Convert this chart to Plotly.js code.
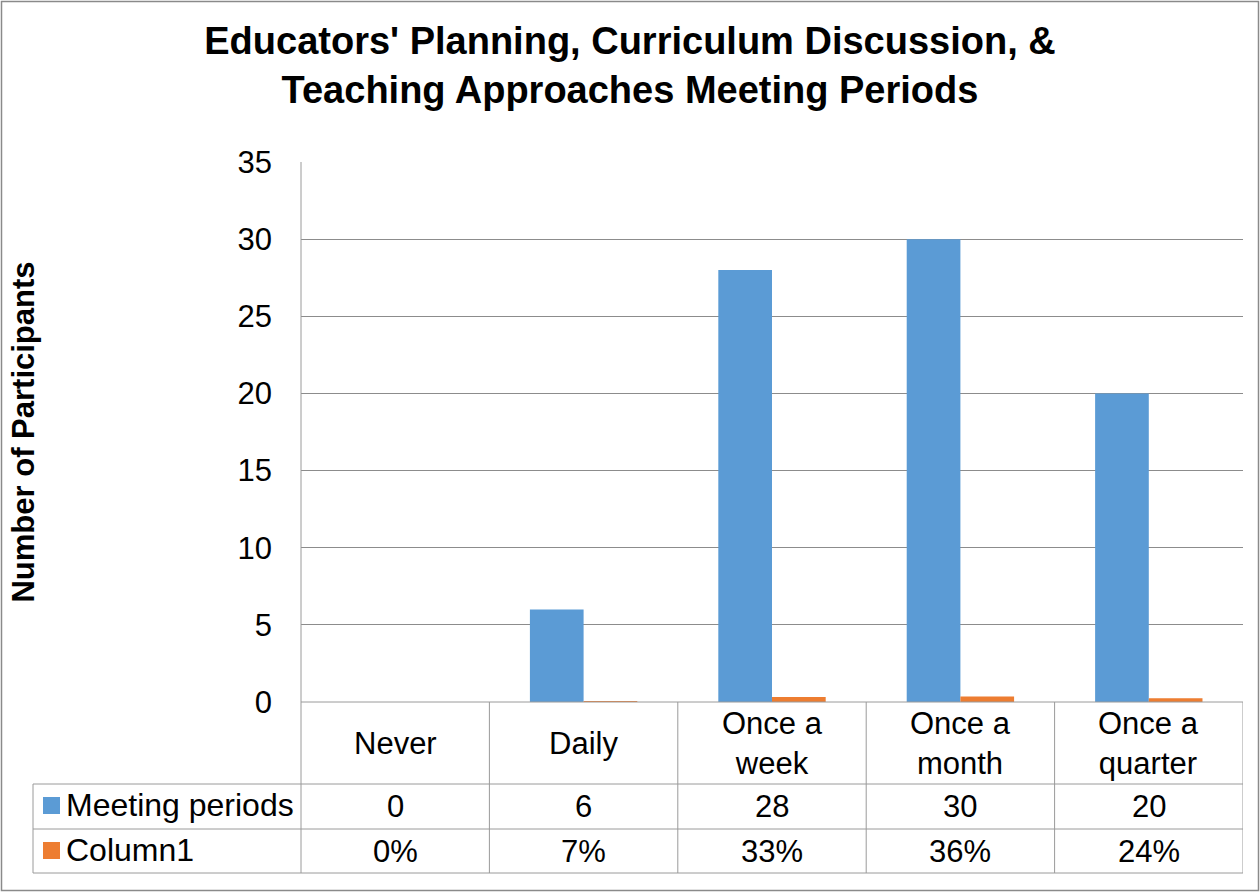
<!DOCTYPE html>
<html>
<head>
<meta charset="utf-8">
<script src="https://cdn.plot.ly/plotly-3.0.1.min.js"></script>
<style>html,body{margin:0;padding:0;background:#fff;}#chart{width:1260px;height:892px;}</style>
</head>
<body>
<div id="chart"></div>
<script>
const categories = ["Never", "Daily", "Once a week", "Once a month", "Once a quarter"];
const categoryLabels = ["Never", "Daily", "Once a<br>week", "Once a<br>month", "Once a<br>quarter"];
const meetingPeriods = [0, 6, 28, 30, 20];
const column1 = [0, 0.07, 0.33, 0.36, 0.24];
const seriesNames = ["Meeting periods", "Column1"];
const colors = ["#5B9BD5", "#ED7D31"];

const W = 1260, H = 892;
const L = 301, R = 1243, T = 162, B = 702;
const pw = R - L, ph = B - T;
const px = x => (x - L) / pw;          // pixel x -> paper x
const py = y => (B - y) / ph;          // pixel y -> paper y

const font = "Arial, 'Liberation Sans', sans-serif";
const lineCol = "#9A9A9A";
const fs = 31;

const traces = [
  {type: "bar", x: categories, y: meetingPeriods, name: seriesNames[0], marker: {color: colors[0]}, hoverinfo: "x+y"},
  {type: "bar", x: categories, y: column1, name: seriesNames[1], marker: {color: colors[1]}, hoverinfo: "x+y"}
];

const shapes = [];
const annotations = [];
function hline(x0, x1, y, xref) {
  shapes.push({type: "line", xref: xref || "paper", yref: "paper", x0: x0, x1: x1, y0: y, y1: y, line: {color: lineCol, width: 1}});
}
function vline(x, y0, y1, xref) {
  shapes.push({type: "line", xref: xref || "paper", yref: "paper", x0: x, x1: x, y0: y0, y1: y1, line: {color: lineCol, width: 1}});
}
hline(0, 1, py(B));
hline(px(33), 1, py(784));
hline(px(33), 1, py(829));
hline(px(33), 1, py(873));
vline(px(33), py(784), py(873));
vline(0, py(873), 1);
for (let i = 0; i < categories.length; i++) {
  vline(i + 0.5, py(702), py(873), "x");
}
// legend keys
[[797, 814], [842, 859]].forEach((r, i) => {
  shapes.push({type: "rect", xref: "paper", yref: "paper", x0: px(43), x1: px(60), y0: py(r[1]), y1: py(r[0]), fillcolor: colors[i], line: {width: 0}});
  annotations.push({xref: "paper", yref: "paper", x: px(64), y: py((r[0] + r[1]) / 2 - 1), xanchor: "left", yanchor: "middle", text: seriesNames[i], showarrow: false, font: {family: font, size: 32, color: "#000"}});
});
// outer border
shapes.push({type: "rect", xref: "paper", yref: "paper", x0: px(1.5), x1: px(W - 1.5), y0: py(H - 1.5), y1: py(1.5), line: {color: "#8A8A8A", width: 1.5}});

categories.forEach((c, i) => {
  annotations.push({xref: "x", yref: "paper", x: c, y: py(743), xanchor: "center", yanchor: "middle", text: categoryLabels[i], showarrow: false, font: {family: font, size: fs, color: "#000"}});
  annotations.push({xref: "x", yref: "paper", x: c, y: py(806), xanchor: "center", yanchor: "middle", text: String(meetingPeriods[i]), showarrow: false, font: {family: font, size: fs, color: "#000"}});
  annotations.push({xref: "x", yref: "paper", x: c, y: py(851), xanchor: "center", yanchor: "middle", text: Math.round(column1[i] * 100) + "%", showarrow: false, font: {family: font, size: fs, color: "#000"}});
});

const layout = {
  width: W, height: H,
  margin: {l: L, r: W - R, t: T, b: H - B, autoexpand: false},
  paper_bgcolor: "#fff", plot_bgcolor: "#fff",
  showlegend: false,
  barmode: "group", bargap: 0.43, bargroupgap: 0,
  title: {
    text: "<b>Educators' Planning, Curriculum Discussion, &<br>Teaching Approaches Meeting Periods</b>",
    font: {family: font, size: 38, color: "#000"},
    x: 0.5, xanchor: "center", xref: "container",
    y: 1 - 54 / H, yanchor: "middle", yref: "container"
  },
  xaxis: {
    type: "category", range: [-0.5, 4.5], showticklabels: false, ticks: "",
    showgrid: false, zeroline: false, showline: false, fixedrange: true
  },
  yaxis: {
    range: [0, 35], dtick: 5, tick0: 0,
    showgrid: true, gridcolor: "#8C8C8C", gridwidth: 1,
    zeroline: false, showline: false,
    ticks: "", ticklabelstandoff: 28,
    tickfont: {family: font, size: fs, color: "#000"},
    title: {text: "<b>Number of Participants</b>", font: {family: font, size: 31, color: "#000"}, standoff: 193},
    automargin: false, fixedrange: true
  },
  shapes: shapes,
  annotations: annotations
};

Plotly.newPlot("chart", traces, layout, {displayModeBar: false, staticPlot: true});
</script>
</body>
</html>
